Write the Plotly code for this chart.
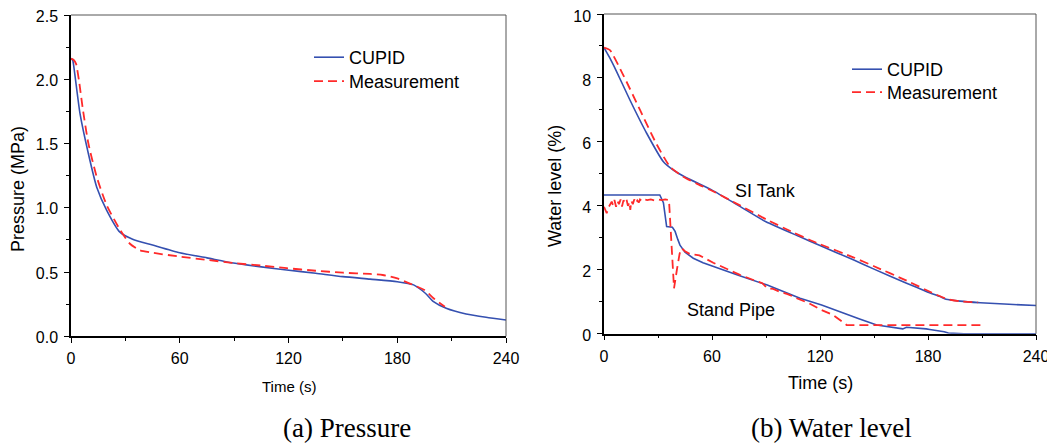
import plotly.graph_objects as go

# ---------------- data ----------------
# (a) Pressure
t_p_cupid = [0, 0.9, 2, 5, 9.6, 14.2, 19.7, 27, 34, 45, 60, 75, 89.6, 105, 119, 135, 150, 165, 180, 189, 195.5, 200, 207, 218, 229, 240]
p_cupid = [2.16, 2.15, 2.05, 1.73, 1.42, 1.16, 0.98, 0.81, 0.755, 0.71, 0.65, 0.61, 0.57, 0.54, 0.516, 0.49, 0.464, 0.445, 0.425, 0.40, 0.335, 0.27, 0.218, 0.174, 0.148, 0.127]
t_p_meas = [0, 1.5, 2.8, 4.5, 6.5, 9.6, 14.2, 19.7, 27, 32.5, 38, 45, 60, 75, 89.6, 105, 119, 135, 150, 165, 172, 180, 187, 195, 200, 206.3]
p_meas = [2.16, 2.15, 2.12, 1.98, 1.77, 1.50, 1.24, 1.02, 0.83, 0.72, 0.67, 0.65, 0.62, 0.595, 0.57, 0.55, 0.53, 0.51, 0.495, 0.485, 0.477, 0.45, 0.41, 0.36, 0.296, 0.23]

# (b) Water level - SI Tank
t_si_cupid = [0, 3, 7, 14.4, 23.7, 33, 38.5, 45, 60, 75, 90, 108.9, 120, 138.5, 150, 168.1, 180, 186.7, 190, 197.8, 209, 225, 240]
si_cupid = [8.95, 8.65, 8.2, 7.31, 6.27, 5.38, 5.12, 4.9, 4.49, 4.0, 3.50, 3.03, 2.76, 2.31, 2.02, 1.58, 1.3, 1.16, 1.08, 1.02, 0.97, 0.92, 0.88]
t_si_meas = [0, 3.3, 10.7, 20, 29, 36.7, 44, 52, 60, 75, 90, 105, 114.4, 120, 138.5, 150, 168.1, 183, 190.4, 198, 207.8]
si_meas = [8.95, 8.87, 8.09, 7.0, 5.95, 5.22, 4.91, 4.68, 4.47, 4.03, 3.58, 3.17, 2.93, 2.80, 2.39, 2.11, 1.66, 1.26, 1.09, 1.01, 0.98]

# (b) Water level - Stand Pipe
t_sp_cupid = [0, 31, 33, 34.8, 38, 39.5, 41, 42.2, 45, 49.6, 55, 60.7, 75, 90.7, 108.9, 120.9, 127.4, 142, 151.5, 159, 166, 168, 172, 179, 181, 185, 189, 191.3, 200, 240]
sp_cupid = [4.34, 4.34, 4.1, 3.35, 3.33, 3.2, 2.95, 2.77, 2.55, 2.36, 2.22, 2.10, 1.82, 1.52, 1.11, 0.90, 0.76, 0.46, 0.27, 0.2, 0.15, 0.2, 0.19, 0.15, 0.13, 0.1, 0.06, 0.02, 0, 0]
t_sp_meas = [0, 0.5, 1.5, 2.5, 3.3, 4.3, 5, 5.8, 6.7, 7.5, 8.3, 9.2, 10, 10.8, 11.7, 12.5, 13.3, 14.2, 14.6, 15.2, 16, 16.8, 17.6, 18.5, 19.3, 20, 21, 22, 24, 26, 28, 30, 32, 34, 36.1, 37.5, 38.9, 40.5, 42, 43.2, 45, 47.8, 53, 60.7, 68, 75.5, 83, 88, 90.7, 94, 97.7, 102, 107, 114, 120.9, 127.4, 134.8, 150, 170, 190, 210.7]
sp_meas = [3.97, 3.9, 3.77, 3.95, 4.05, 4.13, 4.02, 4.18, 3.97, 4.15, 4.05, 4.2, 3.98, 4.17, 4.1, 4.2, 4.0, 4.12, 3.87, 4.15, 4.05, 4.2, 4.08, 4.17, 4.1, 4.2, 4.15, 4.2, 4.18, 4.2, 4.17, 4.2, 4.18, 4.2, 4.18, 2.8, 1.42, 2.0, 2.5, 2.67, 2.58, 2.49, 2.45, 2.22, 2.03, 1.84, 1.68, 1.58, 1.42, 1.40, 1.31, 1.24, 1.11, 0.95, 0.74, 0.58, 0.27, 0.27, 0.27, 0.27, 0.27]

x_ticks = [0, 60, 120, 180, 240]
caption_a = "(a) Pressure"
caption_b = "(b) Water level"

# ---------------- styles ----------------
BLUE = "#3550b0"
RED = "#ff2a2a"
FONT = "Liberation Sans, Arial, sans-serif"
SERIF = "Liberation Serif, Times New Roman, serif"
DASH = "9px,5px"

# page has an 8px body margin; layout is described in window pixels
OFF = 8
W, H = 1055 - OFF, 446 - OFF


def sx(px):
    return (px - OFF) / W


def sy(py):
    return (H - (py - OFF)) / H


fig = go.Figure()

fig.add_trace(go.Scatter(x=t_p_cupid, y=p_cupid, mode="lines", name="CUPID",
                         line=dict(color=BLUE, width=1.6, shape="spline", smoothing=0.6),
                         xaxis="x", yaxis="y", legend="legend"))
fig.add_trace(go.Scatter(x=t_p_meas, y=p_meas, mode="lines", name="Measurement",
                         line=dict(color=RED, width=1.8, dash=DASH, shape="spline", smoothing=0.6),
                         xaxis="x", yaxis="y", legend="legend2"))

fig.add_trace(go.Scatter(x=t_si_cupid, y=si_cupid, mode="lines", name="CUPID",
                         line=dict(color=BLUE, width=1.6, shape="spline", smoothing=0.5),
                         xaxis="x2", yaxis="y2", legend="legend3"))
fig.add_trace(go.Scatter(x=t_si_meas, y=si_meas, mode="lines", name="Measurement",
                         line=dict(color=RED, width=1.8, dash=DASH, shape="spline", smoothing=0.5),
                         xaxis="x2", yaxis="y2", legend="legend4"))
fig.add_trace(go.Scatter(x=t_sp_cupid, y=sp_cupid, mode="lines", name="CUPID",
                         line=dict(color=BLUE, width=1.6),
                         xaxis="x2", yaxis="y2", showlegend=False))
fig.add_trace(go.Scatter(x=t_sp_meas, y=sp_meas, mode="lines", name="Measurement",
                         line=dict(color=RED, width=1.8, dash=DASH),
                         xaxis="x2", yaxis="y2", showlegend=False))


def xax(domain, anchor):
    return dict(domain=domain, anchor=anchor, range=[0, 240], tickmode="array", tickvals=x_ticks,
                ticks="outside", ticklen=5, tickwidth=1, tickcolor="black",
                minor=dict(dtick=30, tick0=0, ticks="outside", ticklen=3, tickcolor="black", tickwidth=1),
                showline=True, linecolor="black", linewidth=1.5, showgrid=False, zeroline=False,
                tickfont=dict(family=FONT, size=16, color="black"), automargin=False,
                ticklabelstandoff=2, ticklabeloverflow="allow")


def yax(domain, anchor, rng, dtick, mdtick, fmt, shift):
    return dict(domain=domain, anchor=anchor, range=rng, dtick=dtick, tick0=0, tickformat=fmt,
                ticks="outside", ticklen=5, tickwidth=1, tickcolor="black",
                minor=dict(dtick=mdtick, tick0=0, ticks="outside", ticklen=3, tickcolor="black", tickwidth=1),
                showline=True, linecolor="black", linewidth=1.5, showgrid=False, zeroline=False,
                tickfont=dict(family=FONT, size=16, color="black"), automargin=False,
                ticklabelstandoff=3, ticklabeloverflow="allow", ticklabelshift=shift)


xa_dom = [sx(71), sx(506)]
ya_dom = [sy(336.3), sy(15)]
xb_dom = [sx(604), sx(1036)]
yb_dom = [sy(333.7), sy(14)]

shapes = []
for xr, yr in (("x domain", "y domain"), ("x2 domain", "y2 domain")):
    shapes.append(dict(type="line", xref=xr, yref=yr, x0=0, x1=1, y0=1, y1=1,
                       line=dict(color="#555555", width=1)))
    shapes.append(dict(type="line", xref=xr, yref=yr, x0=1, x1=1, y0=0, y1=1,
                       line=dict(color="#555555", width=1)))


def ann(text, px, py, size, family=FONT, angle=0):
    return dict(text=text, xref="paper", yref="paper", x=sx(px), y=sy(py),
                xanchor="center", yanchor="middle", textangle=angle, showarrow=False,
                font=dict(family=family, size=size, color="black"))


annotations = [
    ann("Pressure (MPa)", 18, 189, 18, angle=-90),
    ann("Water level (%)", 555, 186, 18, angle=-90),
    ann("Time (s)", 288.5, 386, 15),
    ann("Time (s)", 820, 383, 18),
    dict(text="SI Tank", xref="x2", yref="y2", x=71.7, y=4.46, xanchor="left", yanchor="middle",
         showarrow=False, font=dict(family=FONT, size=18, color="black")),
    dict(text="Stand Pipe", xref="x2", yref="y2", x=45, y=0.74, xanchor="left", yanchor="middle",
         showarrow=False, font=dict(family=FONT, size=18, color="black")),
    ann(caption_a, 347, 428, 27, family=SERIF),
    ann(caption_b, 832, 428, 27, family=SERIF),
]

leg_common = dict(font=dict(family=FONT, size=18, color="black"), bgcolor="rgba(0,0,0,0)",
                  xanchor="left", yanchor="top", tracegroupgap=0, itemwidth=30)

fig.update_layout(
    width=W, height=H,
    margin=dict(l=0, r=0, t=0, b=0),
    paper_bgcolor="white", plot_bgcolor="white",
    xaxis=xax(xa_dom, "y"),
    yaxis=yax(ya_dom, "x", [0, 2.5], 0.5, 0.25, ".1f", 1),
    xaxis2=xax(xb_dom, "y2"),
    yaxis2=yax(yb_dom, "x2", [0, 10], 2, 1, "d", 2),
    legend=dict(x=sx(309), y=sy(39), **leg_common),
    legend2=dict(x=sx(309), y=sy(63), **leg_common),
    legend3=dict(x=sx(847), y=sy(51), **leg_common),
    legend4=dict(x=sx(847), y=sy(74), **leg_common),
    shapes=shapes,
    annotations=annotations,
    showlegend=True,
)

fig.write_html("out.html")
